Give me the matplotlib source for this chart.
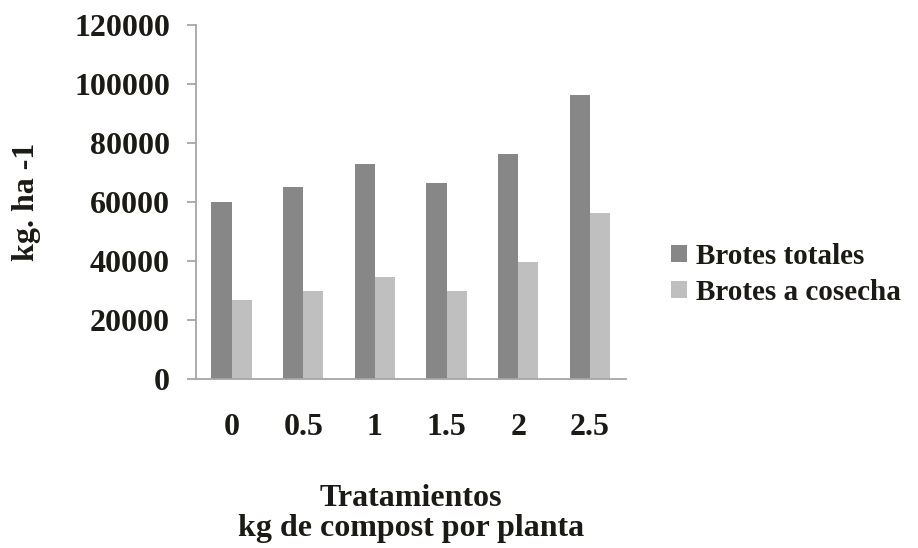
import matplotlib.pyplot as plt
import numpy as np

# compost dose per plant (kg) and sprout yields (kg/ha)
dosis = ["0", "0.5", "1", "1.5", "2", "2.5"]
brotes_totales = [59800, 64900, 72800, 66200, 76300, 96300]
brotes_cosecha = [26700, 29700, 34600, 29700, 39700, 56300]

plt.rcParams["font.family"] = "Liberation Serif"
plt.rcParams["font.weight"] = "bold"
plt.rcParams["axes.labelweight"] = "bold"
texto = "#1c1a14"
eje = "#a6a6a6"

fig = plt.figure(figsize=(9.18, 5.48), dpi=100)
ax = fig.add_axes([0.2132, 0.309, 0.4684, 0.646])

x = np.arange(len(dosis))
ancho = 0.28
ax.bar(x - ancho / 2, brotes_totales, ancho, color="#878787", label="Brotes totales")
ax.bar(x + ancho / 2, brotes_cosecha, ancho, color="#bfbfbf", label="Brotes a cosecha")

ax.set_xlim(-0.5, len(dosis) - 0.5)
ax.set_ylim(0, 120000)
ax.set_yticks(range(0, 120001, 20000))
ax.set_xticks(x)
ax.set_xticklabels(dosis)

for lado in ["top", "right"]:
    ax.spines[lado].set_visible(False)
for lado in ["left", "bottom"]:
    ax.spines[lado].set_color(eje)
    ax.spines[lado].set_linewidth(1.3)

ax.tick_params(axis="y", length=6.5, width=1.3, color=eje, pad=12,
               labelsize=23, labelcolor=texto)
ax.tick_params(axis="x", length=0, pad=25, labelsize=23, labelcolor=texto)

ax.set_ylabel("kg. ha -1", fontsize=23, color=texto, labelpad=24)
ax.set_xlabel("Tratamientos\nkg de compost por planta", fontsize=23,
              color=texto, labelpad=30, linespacing=1.05)

ax.legend(loc="center left", bbox_to_anchor=(1.045, 0.295), frameon=False,
          fontsize=21, handlelength=0.55, handleheight=0.55, handletextpad=0.3,
          labelspacing=0.3, labelcolor=texto)

fig.savefig("out.png", dpi=100)
